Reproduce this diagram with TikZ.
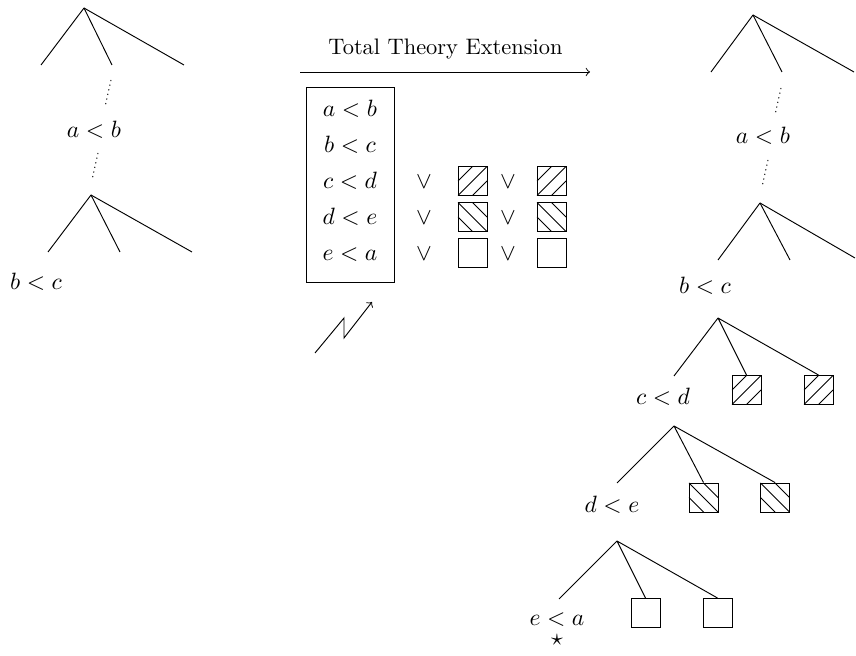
\documentclass[tikz,border=0pt]{standalone}
\usepackage{amsmath}
\usepackage{amssymb}
\usetikzlibrary{calc}

\tikzset{
  rel/.style={inner sep=0pt, text height=7pt, text depth=0.5pt},
  leaf/.style={draw, inner sep=0pt, minimum size=12.3pt},
  hatchup/.style={leaf, path picture={
      \draw (path picture bounding box.south west) -- (path picture bounding box.north east)
            (path picture bounding box.west) -- (path picture bounding box.north)
            (path picture bounding box.south) -- (path picture bounding box.east);}},
  hatchdown/.style={leaf, path picture={
      \draw (path picture bounding box.north west) -- (path picture bounding box.south east)
            (path picture bounding box.west) -- (path picture bounding box.south)
            (path picture bounding box.north) -- (path picture bounding box.east);}},
  elide/.style={dash pattern=on 0.5pt off 1.5pt}
}

\begin{document}
\begin{tikzpicture}[x=0.4237pt, y=-0.4237pt]
    \useasboundingbox (0,0) rectangle (856,656);

    % 1. Left: the branch before the extension
    \coordinate (L1) at (84,8);
    \coordinate (L1a) at (41,65);
    \coordinate (L1b) at (112,65);
    \coordinate (L1c) at (184,65);
    \foreach \c in {L1a,L1b,L1c} \draw (L1) -- (\c);
    \coordinate (Ld1) at (111,80);
    \coordinate (Ld2) at (105,107);
    \draw[elide] (Ld1) -- (Ld2);
    \node[rel] (Lab) at (94,130) {$a < b$};
    \coordinate (Ld3) at (98,153);
    \coordinate (Ld4) at (92,180);
    \draw[elide] (Ld3) -- (Ld4);
    \coordinate (L2) at (91,195);
    \coordinate (L2a) at (48,252);
    \coordinate (L2b) at (120,252);
    \coordinate (L2c) at (192,252);
    \foreach \c in {L2a,L2b,L2c} \draw (L2) -- (\c);
    \node[rel] (Lbc) at (36,282) {$b < c$};

    % 2. The extension arrow
    \coordinate (arrL) at (300,72);
    \coordinate (arrR) at (590,72);
    \draw[->] (arrL) -- (arrR);
    \node[anchor=base, inner sep=0pt, scale=0.95] (ext) at (445.5,55) {Total Theory Extension};

    % 3. The theory and its disjunctions
    \draw (306,87) rectangle (394,282);
    \foreach \r/\t/\y in {1/{a < b}/109, 2/{b < c}/145, 3/{c < d}/181, 4/{d < e}/217, 5/{e < a}/253}
        \node[rel] (row\r) at (350,\y) {$\t$};
    \foreach \r/\y/\s in {3/181/hatchup, 4/217/hatchdown, 5/253/leaf} {
        \node[rel] (or\r a) at (424,\y) {$\vee$};
        \node[\s] (sq\r a) at (472.5,\y) {};
        \node[rel] (or\r b) at (508,\y) {$\vee$};
        \node[\s] (sq\r b) at (551.5,\y) {};
    }

    % 4. The clash
    \coordinate (Z0) at (315,353);
    \coordinate (Z1) at (344,318);
    \coordinate (Z2) at (344,338);
    \coordinate (Z3) at (372,302);
    \draw[->] (Z0) -- (Z1) -- (Z2) -- (Z3);

    % 5. Right: the extended branch
    \coordinate (R1) at (753,15);
    \coordinate (R1a) at (711,72);
    \coordinate (R1b) at (782,72);
    \coordinate (R1c) at (854,72);
    \foreach \c in {R1a,R1b,R1c} \draw (R1) -- (\c);
    \coordinate (Rd1) at (781,88);
    \coordinate (Rd2) at (775,115);
    \draw[elide] (Rd1) -- (Rd2);
    \node[rel] (Rab) at (763,136) {$a < b$};
    \coordinate (Rd3) at (768,160);
    \coordinate (Rd4) at (762,187);
    \draw[elide] (Rd3) -- (Rd4);
    \coordinate (R2) at (760,203);
    \coordinate (R2a) at (718,260);
    \coordinate (R2b) at (790,260);
    \coordinate (R2c) at (855,258);
    \foreach \c in {R2a,R2b,R2c} \draw (R2) -- (\c);
    \node[rel] (Rbc) at (705,286) {$b < c$};

    % 6. Splitting on the remaining literals
    \coordinate (R3) at (718,318);
    \coordinate (R3a) at (674,376);
    \node[hatchup] (cd1) at (746.5,390) {};
    \node[hatchup] (cd2) at (818.5,390) {};
    \draw (R3) -- (R3a) (R3) -- (cd1.north) (R3) -- (cd2.north);
    \node[rel] (Rcd) at (663,397) {$c < d$};

    \coordinate (R4) at (674,426);
    \coordinate (R4a) at (617,483);
    \node[hatchdown] (de1) at (703.5,497.5) {};
    \node[hatchdown] (de2) at (775,497.5) {};
    \draw (R4) -- (R4a) (R4) -- (de1.north) (R4) -- (de2.north);
    \node[rel] (Rde) at (612,505) {$d < e$};

    \coordinate (R5) at (617,541);
    \coordinate (R5a) at (559,599);
    \node[leaf] (ea1) at (645.5,613) {};
    \node[leaf] (ea2) at (717.5,613) {};
    \draw (R5) -- (R5a) (R5) -- (ea1.north) (R5) -- (ea2.north);
    \node[rel] (Rea) at (557,618) {$e < a$};
    \node[inner sep=0pt, anchor=north] (closed) at (557,634) {$\star$};

\end{tikzpicture}
\end{document}
